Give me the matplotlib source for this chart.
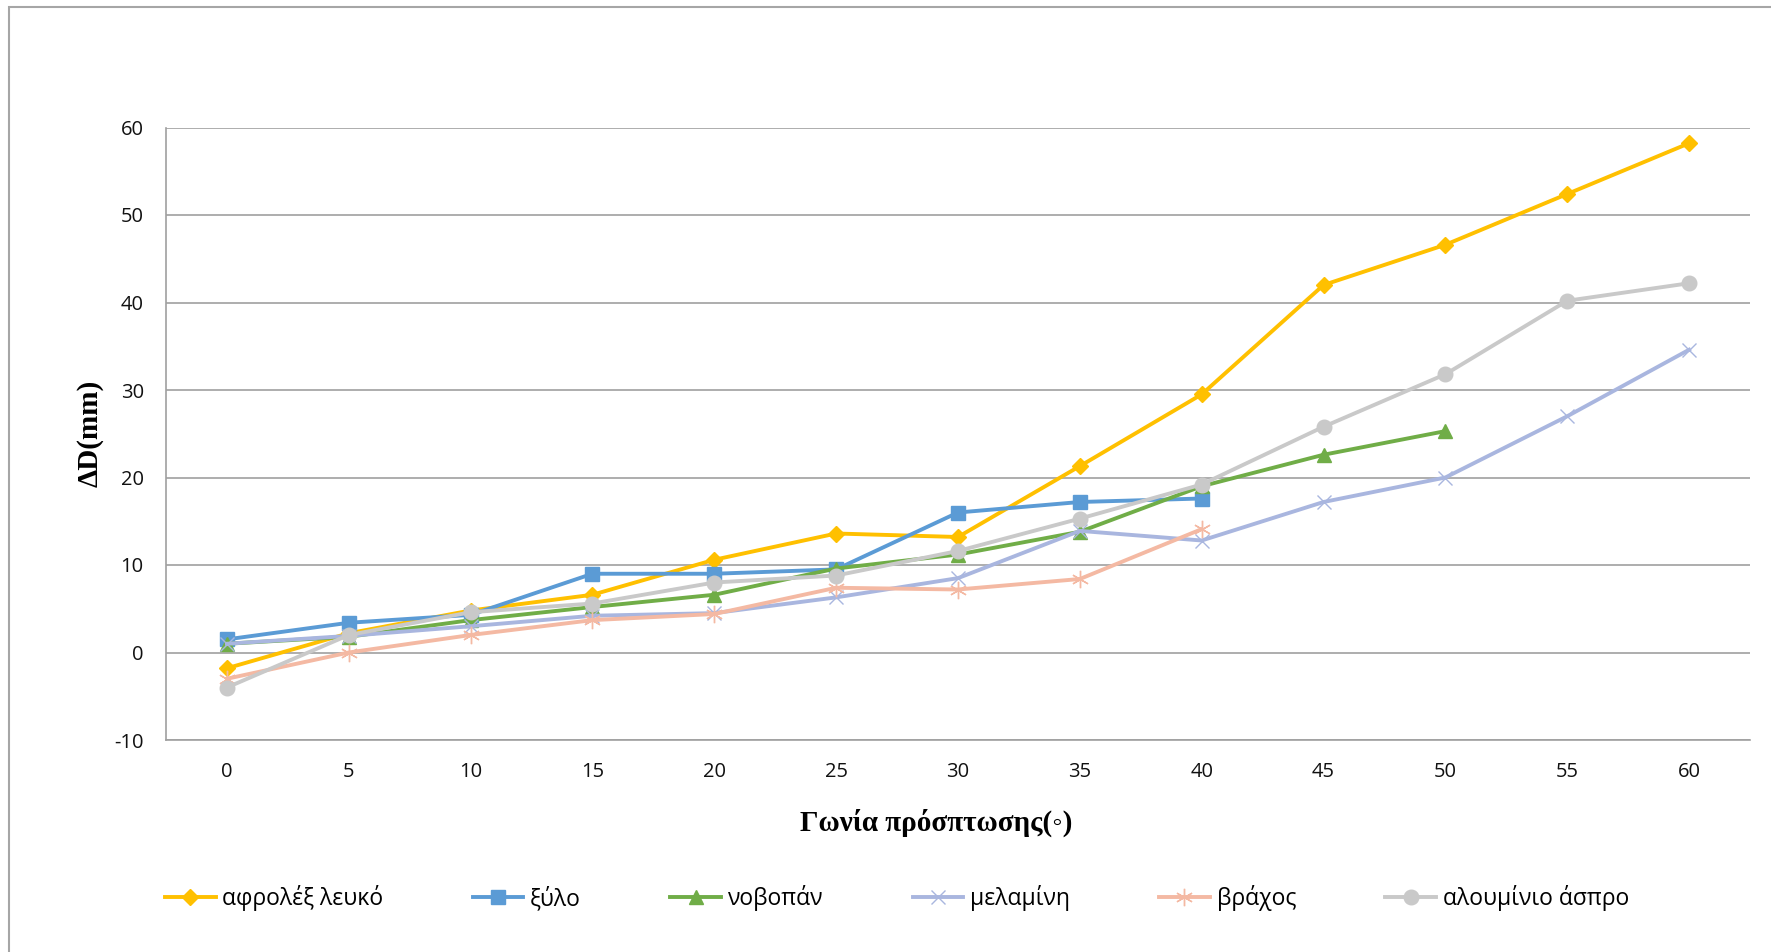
import matplotlib.pyplot as plt
import numpy as np
from matplotlib.patches import Rectangle

plt.rcParams["axes.unicode_minus"] = False

# Γωνία πρόσπτωσης (μοίρες)
gonies = [0, 5, 10, 15, 20, 25, 30, 35, 40, 45, 50, 55, 60]

afroles_lefko = [-1.8, 2.2, 4.8, 6.6, 10.6, 13.6, 13.2, 21.3, 29.5, 42.0, 46.6, 52.4, 58.2]
xylo = [1.5, 3.4, 4.3, 9.0, 9.0, 9.5, 16.0, 17.2, 17.6]
novopan = [1.0, 1.8, 3.7, 5.2, 6.6, 9.6, 11.2, 13.8, 19.0, 22.6, 25.3]
melamini = [1.0, 1.9, 3.0, 4.2, 4.5, 6.3, 8.5, 13.9, 12.8, 17.2, 20.0, 27.0, 34.6]
vrachos = [-3.0, 0.0, 2.0, 3.7, 4.4, 7.4, 7.2, 8.4, 14.1]
alouminio = [-4.0, 2.0, 4.6, 5.6, 8.0, 8.8, 11.6, 15.3, 19.2, 25.8, 31.8, 40.2, 42.2]

seires = [
    ("αφρολέξ λευκό", afroles_lefko, "#FFC000", "D", 8.5, 1.0),
    ("ξύλο", xylo, "#5B9BD5", "s", 9.5, 1.0),
    ("νοβοπάν", novopan, "#70AD47", "^", 10.5, 1.0),
    ("μελαμίνη", melamini, "#A9B6DF", "x", 10.5, 1.0),
    ("βράχος", vrachos, "#F4B9A3", (6, 2, 0), 12.5, 1.0),
    ("αλουμίνιο άσπρο", alouminio, "#C9C9C9", "o", 10.5, 1.0),
]

W, H = 1771, 952
fig = plt.figure(figsize=(W / 100, H / 100), dpi=100)
ax = fig.add_axes([166 / W, 1 - 740 / H, (1750 - 166) / W, (740 - 127.5) / H])

thesi = np.arange(len(gonies))
for onoma, timi, xroma, marker, ms, mew in seires:
    ax.plot(thesi[:len(timi)], timi, color=xroma, lw=2.8, marker=marker,
            ms=ms, mew=mew, mec=xroma, mfc=xroma, label=onoma,
            solid_joinstyle="round")

ax.set_xlim(-0.5, len(gonies) - 0.5)
ax.set_ylim(-10, 60)
ax.set_yticks(range(-10, 61, 10))
ax.set_xticks(thesi)
ax.set_xticklabels([str(g) for g in gonies])

ax.grid(axis="y", color="#A0A0A0", lw=1.2)
ax.set_axisbelow(True)
for s in ["top", "right"]:
    ax.spines[s].set_visible(False)
for s in ["left", "bottom"]:
    ax.spines[s].set_color("#A0A0A0")
    ax.spines[s].set_linewidth(1.2)
ax.tick_params(length=0, labelsize=14.5, labelcolor="#111111")
ax.tick_params(axis="x", pad=16)
ax.tick_params(axis="y", pad=16)
for lab in ax.get_xticklabels() + ax.get_yticklabels():
    lab.set_family(["Open Sans", "DejaVu Sans"])

fig.text(936 / W, 1 - 823 / H, "Γωνία πρόσπτωσης(◦)", ha="center", va="center",
         fontsize=21, fontweight="bold",
         family=["Liberation Serif", "DejaVu Serif"])
fig.text(90 / W, 1 - 433 / H, "ΔD(mm)", ha="center", va="center", rotation=90,
         fontsize=21, fontweight="bold",
         family=["Liberation Serif", "DejaVu Serif"])

leg = fig.legend(loc="center", bbox_to_anchor=(897 / W, 1 - 898 / H), ncol=6,
                 frameon=False, handlelength=2.2, handletextpad=0.3,
                 columnspacing=3.9, prop={"family": "Open Sans", "size": 16.5})

# περίγραμμα περιοχής γραφήματος
fig.add_artist(Rectangle((9 / W, -0.1), 1.2, 1.1 - 6.5 / H, transform=fig.transFigure,
                         fill=False, ec="#A6A6A6", lw=1.5))

fig.savefig("out.png", dpi=100)
